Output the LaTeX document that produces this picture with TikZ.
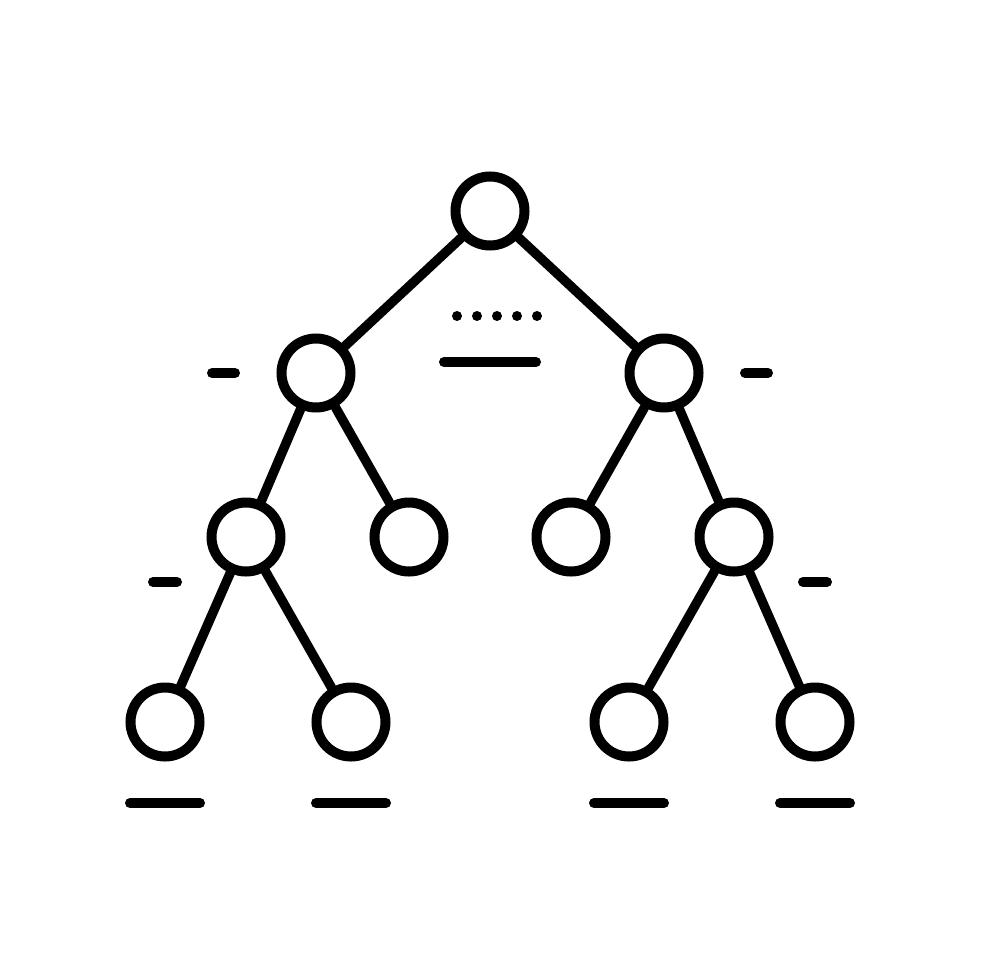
\documentclass[tikz,border=0pt]{standalone}
\begin{document}
\begin{tikzpicture}[x=1pt,y=-1pt,line width=10pt,line cap=round,
  treenode/.style={circle,draw=black,fill=white,minimum size=69pt,inner sep=0pt,line width=10pt},
  edge/.style={draw=black,line width=9.5pt},
  mark line/.style={draw=black,line width=10pt,line cap=round}]
\useasboundingbox[fill=white] (0,0) rectangle (980,980);
% nodes
\node[treenode] (r) at (490,211) {};
\node[treenode] (a) at (316,373) {};
\node[treenode] (b) at (664,373) {};
\node[treenode] (aa) at (246,537) {};
\node[treenode] (ab) at (409,537) {};
\node[treenode] (ba) at (571,537) {};
\node[treenode] (bb) at (734,537) {};
\node[treenode] (aaa) at (165,722) {};
\node[treenode] (aab) at (351,722) {};
\node[treenode] (bba) at (629,722) {};
\node[treenode] (bbb) at (815,722) {};
% edges
\draw[edge] (r) -- (a);
\draw[edge] (r) -- (b);
\draw[edge] (a) -- (aa);
\draw[edge] (a) -- (ab);
\draw[edge] (b) -- (ba);
\draw[edge] (b) -- (bb);
\draw[edge] (aa) -- (aaa);
\draw[edge] (aa) -- (aab);
\draw[edge] (bb) -- (bba);
\draw[edge] (bb) -- (bbb);
% dashes
\draw[mark line] (212,373) -- (235,373);
\draw[mark line] (745,373) -- (768,373);
\draw[mark line] (153,582) -- (177,582);
\draw[mark line] (803,582) -- (827,582);
% bottom lines
\draw[mark line] (130,803) -- (200,803);
\draw[mark line] (316,803) -- (386,803);
\draw[mark line] (594,803) -- (664,803);
\draw[mark line] (780,803) -- (850,803);
% middle
\foreach \x in {457,477,497,517,537} \fill (\x,316) circle (5);
\draw[mark line] (444,362) -- (536,362);
\end{tikzpicture}
\end{document}
